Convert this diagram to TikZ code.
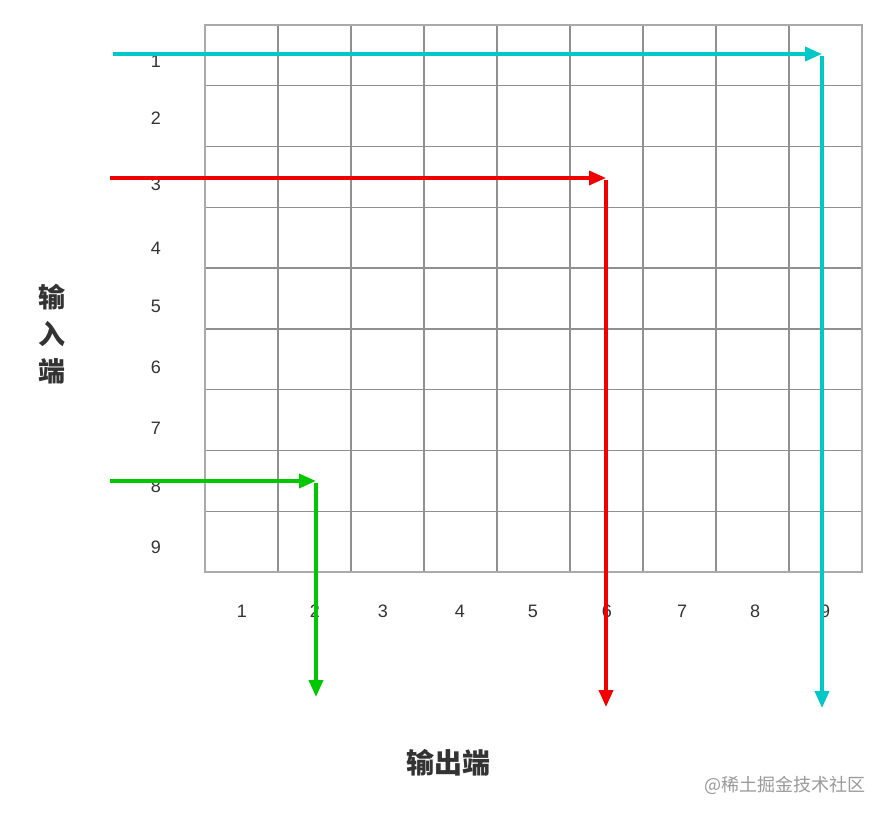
\documentclass[tikz,border=0pt]{standalone}
\usepackage{fontspec}
\setmainfont{Noto Sans CJK SC}
\newfontfamily\digitfont{Liberation Sans}
\usetikzlibrary{arrows.meta}
\definecolor{gridc}{HTML}{909090}
\definecolor{borderc}{HTML}{AAAAAA}
\definecolor{cyanc}{HTML}{00C8C8}
\definecolor{redc}{HTML}{F00000}
\definecolor{greenc}{HTML}{00C800}
\definecolor{txt}{HTML}{333333}
\definecolor{wmc}{HTML}{9A9A9A}
\tikzset{
  gridline/.style={draw=gridc, line width=1.3pt},
  num/.style={font=\digitfont\fontsize{18}{18}\selectfont, text=txt, inner sep=0pt},
  flow/.style={line width=3.6pt, -{Triangle[length=17pt,width=14pt]}},
  title/.style={font=\fontsize{27}{27}\selectfont\bfseries, text=txt, inner sep=0pt},
}
\begin{document}
\begin{tikzpicture}[x=1pt,y=-1pt]
\useasboundingbox[fill=white] (0,0) rectangle (887,817);
% grid
\foreach \i in {1,...,8} {
  \draw[gridline] ({205+73*\i},25) -- ({205+73*\i},572);
  \draw[gridline] (205,{25+547/9*\i}) -- (862,{25+547/9*\i});
}
\draw[draw=borderc, line width=1.5pt] (205,25) rectangle (862,572);
% row labels
\foreach \n/\y in {1/61,2/118,3/184,4/248,5/306,6/367,7/428,8/486,9/547} {
  \node[num] (r\n) at (156,\y) {\n};
}
% column labels
\foreach \n/\x in {1/242,2/315,3/383,4/460,5/533,6/607,7/682,8/755,9/825} {
  \node[num] (c\n) at (\x,611) {\n};
}
% titles
\node[title] (in1) at (52,297) {输};
\node[title] (in2) at (52,334) {入};
\node[title] (in3) at (52,371) {端};
\node[title, font=\fontsize{28}{28}\selectfont\bfseries] (outlab) at (448,763) {输出端};
\node[font=\fontsize{18}{18}\selectfont, text=wmc, inner sep=0pt] (wm) at (785,785) {@稀土掘金技术社区};
% arrow coordinates
\coordinate (cs) at (113,54);
\coordinate (cc) at (822,54);
\coordinate (ce) at (822,708);
\coordinate (rs) at (110,178);
\coordinate (rc) at (606,178);
\coordinate (re) at (606,707);
\coordinate (gs) at (110,481);
\coordinate (gc) at (316,481);
\coordinate (ge) at (316,697);
% arrows
\draw[flow, cyanc] (cs) -- (cc);
\draw[flow, cyanc] ([yshift=-1.8pt]cc) -- (ce);
\draw[flow, redc] (rs) -- (rc);
\draw[flow, redc] ([yshift=-1.8pt]rc) -- (re);
\draw[flow, greenc] (gs) -- (gc);
\draw[flow, greenc] ([yshift=-1.8pt]gc) -- (ge);
\end{tikzpicture}
\end{document}
